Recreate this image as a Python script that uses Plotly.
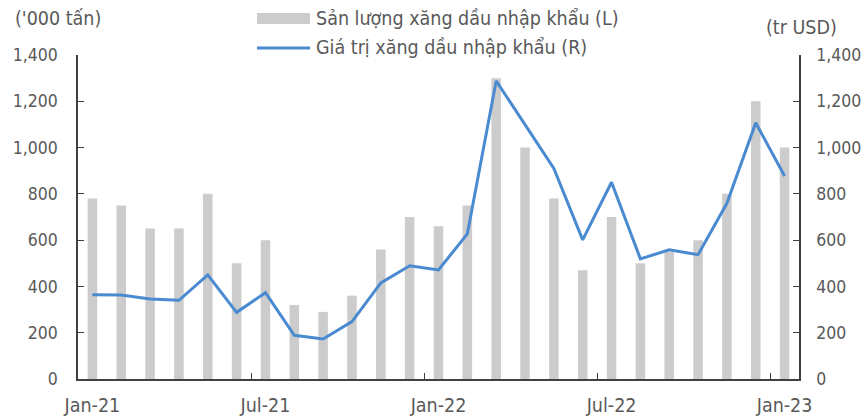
import plotly.graph_objects as go

months = ["Jan-21", "Feb-21", "Mar-21", "Apr-21", "May-21", "Jun-21", "Jul-21", "Aug-21",
          "Sep-21", "Oct-21", "Nov-21", "Dec-21", "Jan-22", "Feb-22", "Mar-22", "Apr-22",
          "May-22", "Jun-22", "Jul-22", "Aug-22", "Sep-22", "Oct-22", "Nov-22", "Dec-22", "Jan-23"]
volume = [780, 750, 650, 650, 800, 500, 600, 320, 290, 360, 560, 700, 660,
          750, 1300, 1000, 780, 470, 700, 500, 550, 600, 800, 1200, 1000]
value = [364, 363, 346, 340, 450, 288, 373, 189, 173, 248, 415, 489, 471,
         627, 1288, 1100, 910, 601, 850, 519, 558, 537, 759, 1107, 877]
tick_labels = ["Jan-21", "Jul-21", "Jan-22", "Jul-22", "Jan-23"]
y_ticks = [0, 200, 400, 600, 800, 1000, 1200, 1400]
name_bar = "Sản lượng xăng dầu nhập khẩu (L)"
name_line = "Giá trị xăng dầu nhập khẩu (R)"

FONT = "DejaVu Sans Condensed, DejaVu Sans"
TXT = "#595959"
BAR_C = "#cccccc"
LINE_C = "#4a8ad0"
AX_C = "#404040"

idx = list(range(len(months)))
tick_idx = [months.index(m) for m in tick_labels]

fig = go.Figure()
fig.add_trace(go.Bar(x=idx, y=volume, name=name_bar, marker_color=BAR_C,
                     marker_line_width=0, width=0.33, yaxis="y"))
fig.add_trace(go.Scatter(x=idx, y=value, name=name_line, mode="lines",
                         line=dict(color=LINE_C, width=3), yaxis="y2"))

fig.update_layout(
    width=868, height=416,
    margin=dict(l=78, r=69, t=55, b=37),
    paper_bgcolor="white", plot_bgcolor="white",
    showlegend=False,
    font=dict(family=FONT, size=19.5, color=TXT),
    xaxis=dict(range=[-0.5, len(months) - 0.5], tickmode="array", tickvals=tick_idx,
               ticktext=tick_labels, ticks="", showgrid=False, zeroline=False,
               showline=True, linecolor=AX_C, linewidth=1.5, automargin=False,
               ticklabelstandoff=8, tickfont=dict(size=19.5),
               minor=dict(tickmode="array", tickvals=[i - 0.5 for i in tick_idx[1:]],
                          ticks="inside", ticklen=6, tickcolor=AX_C, tickwidth=1.2,
                          showgrid=False)),
    yaxis=dict(range=[0, 1400], tickmode="array", tickvals=y_ticks, tickformat=",",
               ticks="inside", ticklen=6, tickcolor=AX_C, showgrid=False,
               zeroline=False, showline=True, linecolor=AX_C, linewidth=1.5,
               automargin=False, ticklabelstandoff=15, tickfont=dict(size=17.5)),
    yaxis2=dict(range=[0, 1400], tickmode="array", tickvals=y_ticks, tickformat=",",
                overlaying="y", side="right", ticks="inside", ticklen=6,
                tickcolor=AX_C, showgrid=False, zeroline=False, showline=True,
                linecolor=AX_C, linewidth=1.5, automargin=False,
                ticklabelstandoff=12, tickfont=dict(size=17.5)),
)

PW, PH = 721, 324.5


def px(x):
    return (x - 78) / PW


def py(y):
    return (379.5 - y) / PH


# manual legend
fig.add_shape(type="rect", xref="paper", yref="paper",
              x0=px(257), x1=px(310), y0=py(24), y1=py(13),
              fillcolor=BAR_C, line_width=0)
fig.add_shape(type="line", xref="paper", yref="paper",
              x0=px(257), x1=px(310), y0=py(48), y1=py(48),
              line=dict(color=LINE_C, width=3))
fig.add_annotation(text=name_bar, xref="paper", yref="paper",
                   x=px(314), y=py(18), xanchor="left", yanchor="middle", showarrow=False)
fig.add_annotation(text=name_line, xref="paper", yref="paper",
                   x=px(314), y=py(47), xanchor="left", yanchor="middle", showarrow=False)
# axis unit labels
fig.add_annotation(text="('000 tấn)", xref="paper", yref="paper",
                   x=px(13), y=py(18), xanchor="left", yanchor="middle", showarrow=False)
fig.add_annotation(text="(tr USD)", xref="paper", yref="paper",
                   x=px(764), y=py(27), xanchor="left", yanchor="middle", showarrow=False)

fig.write_html("out.html", config={"displayModeBar": False},
               post_script="document.body.style.margin='0';document.body.style.overflow='hidden';")
